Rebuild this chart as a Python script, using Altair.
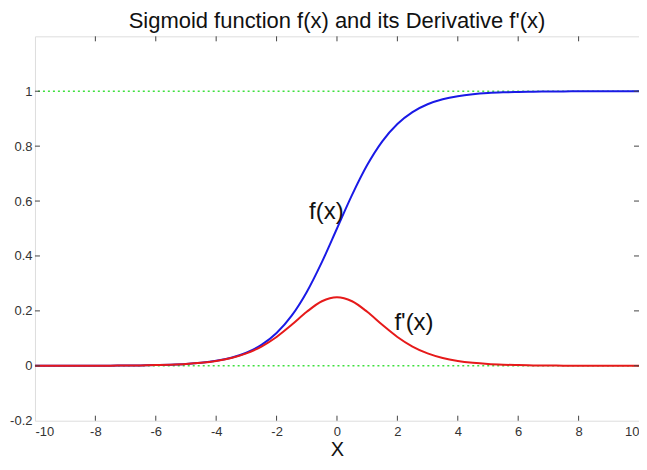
import altair as alt
import pandas as pd

# ---- data ----
x_vals = [-10, -9.5, -9, -8.5, -8, -7.5, -7, -6.5, -6, -5.5, -5, -4.5, -4, -3.5, -3, -2.5, -2, -1.5, -1, -0.5,
          0, 0.5, 1, 1.5, 2, 2.5, 3, 3.5, 4, 4.5, 5, 5.5, 6, 6.5, 7, 7.5, 8, 8.5, 9, 9.5, 10]
f_vals = [0.00005, 0.00007, 0.00012, 0.0002, 0.00034, 0.00055, 0.0009, 0.0015, 0.0025, 0.0041, 0.0067, 0.011,
          0.018, 0.0293, 0.0474, 0.0759, 0.1192, 0.1824, 0.2689, 0.3775,
          0.5, 0.6225, 0.7311, 0.8176, 0.8808, 0.9241, 0.9526, 0.9707, 0.982, 0.989, 0.9933, 0.9959, 0.9975,
          0.9985, 0.9991, 0.99945, 0.99966, 0.9998, 0.99988, 0.99993, 0.99995]
df_vals = [0.00005, 0.00007, 0.00012, 0.0002, 0.00034, 0.00055, 0.0009, 0.0015, 0.0025, 0.0041, 0.0066, 0.0109,
           0.0177, 0.0285, 0.0452, 0.0701, 0.105, 0.1491, 0.1966, 0.235,
           0.25, 0.235, 0.1966, 0.1491, 0.105, 0.0701, 0.0452, 0.0285, 0.0177, 0.0109, 0.0066, 0.0041, 0.0025,
           0.0015, 0.0009, 0.00055, 0.00034, 0.0002, 0.00012, 0.00007, 0.00005]
ref_levels = [0, 1]
x_ticks = [-10, -8, -6, -4, -2, 0, 2, 4, 6, 8, 10]
y_ticks = [-0.2, 0, 0.2, 0.4, 0.6, 0.8, 1]
labels_text = ["f(x)", "f'(x)"]
labels_x = [-0.35, 2.55]
labels_y = [0.56, 0.155]

W, H = 605, 385
FONT = "Liberation Sans"

curve = pd.DataFrame({"x": x_vals, "f": f_vals, "df": df_vals})
refs = pd.DataFrame({"y": ref_levels})
xt = pd.DataFrame({"x": x_ticks[1:-1]})
yt = pd.DataFrame({"y": y_ticks[1:]})
lab = pd.DataFrame({"t": labels_text, "x": labels_x, "y": labels_y})

xscale = alt.Scale(domain=[-10, 10], nice=False, zero=False)
yscale = alt.Scale(domain=[-0.2, 1.2], nice=False, zero=False)

xaxis = alt.Axis(values=x_ticks, labelExpr="'' + datum.value", tickSize=0, domain=False, grid=False,
                 labelPadding=5, labelFontSize=13, labelColor="#333", labelFont=FONT,
                 title="X", titleFontSize=20, titleFontWeight="normal", titleFont=FONT,
                 titleColor="#111", titlePadding=1)
yaxis = alt.Axis(values=y_ticks, labelExpr="'' + datum.value", tickSize=0, domain=False, grid=False,
                 labelPadding=3, labelFontSize=13, labelColor="#333", labelFont=FONT, title=None)

base = alt.Chart(curve)

green = alt.Chart(refs).mark_rule(color="#3ee03e", strokeWidth=1.4, strokeDash=[2, 3]).encode(
    y=alt.Y("y:Q", scale=yscale, axis=yaxis)
)
blue = base.mark_line(color="#1a1ae6", strokeWidth=2, interpolate="monotone", clip=True).encode(
    x=alt.X("x:Q", scale=xscale, axis=xaxis),
    y=alt.Y("f:Q", scale=yscale),
)
red = base.mark_line(color="#e61a1a", strokeWidth=2, interpolate="monotone", clip=True).encode(
    x=alt.X("x:Q", scale=xscale),
    y=alt.Y("df:Q", scale=yscale),
)
text = alt.Chart(lab).mark_text(fontSize=24, font=FONT, color="#111").encode(
    x=alt.X("x:Q", scale=xscale), y=alt.Y("y:Q", scale=yscale), text="t:N"
)

tick_col = "#444"
xt_bottom = alt.Chart(xt).mark_rule(color=tick_col, strokeWidth=1).encode(
    x=alt.X("x:Q", scale=xscale), y=alt.value(H), y2=alt.value(H - 5))
xt_top = alt.Chart(xt).mark_rule(color=tick_col, strokeWidth=1).encode(
    x=alt.X("x:Q", scale=xscale), y=alt.value(0), y2=alt.value(5))
yt_left = alt.Chart(yt).mark_rule(color=tick_col, strokeWidth=1).encode(
    y=alt.Y("y:Q", scale=yscale), x=alt.value(0), x2=alt.value(5))
yt_right = alt.Chart(yt).mark_rule(color=tick_col, strokeWidth=1).encode(
    y=alt.Y("y:Q", scale=yscale), x=alt.value(W), x2=alt.value(W - 5))

chart = alt.layer(green, blue, red, text, xt_bottom, xt_top, yt_left, yt_right).properties(
    width=W, height=H,
    title=alt.TitleParams("Sigmoid function f(x) and its Derivative f'(x)", fontSize=22, font=FONT,
                          fontWeight="normal", color="#111", offset=3, anchor="middle"),
    autosize=alt.AutoSizeParams(type="none"),
    padding={"left": 27, "top": 28, "right": 0, "bottom": 41},
).configure_view(stroke="#555", strokeWidth=1.3).configure(background="white")

chart.save("out.html", embed_options={"renderer": "svg", "actions": False})
